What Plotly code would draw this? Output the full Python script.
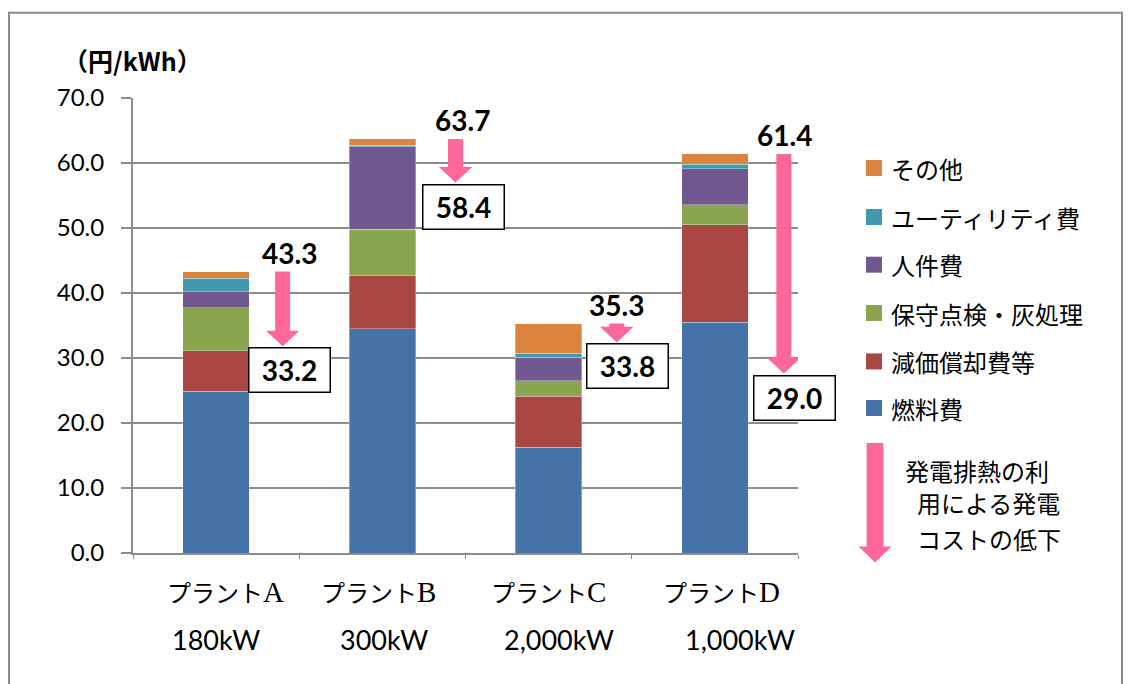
import plotly.graph_objects as go

# ---- data -------------------------------------------------------------
plants = ["プラントA", "プラントB", "プラントC", "プラントD"]
capacity = ["180kW", "300kW", "2,000kW", "1,000kW"]

fuel = [24.9, 34.5, 16.3, 35.5]          # 燃料費
depreciation = [6.2, 8.2, 7.8, 15.0]     # 減価償却費等
maintenance = [6.6, 7.1, 2.4, 3.1]       # 保守点検・灰処理
personnel = [2.5, 12.7, 3.6, 5.5]        # 人件費
utility = [2.1, 0.2, 0.6, 0.7]           # ユーティリティ費
other = [1.0, 1.0, 4.6, 1.6]             # その他

total_cost = [43.3, 63.7, 35.3, 61.4]    # 発電コスト合計
reduced_cost = [33.2, 58.4, 33.8, 29.0]  # 排熱利用後の発電コスト

y_ticks = [0, 10, 20, 30, 40, 50, 60, 70]

series = [
    ("燃料費", fuel, "#4572A7"),
    ("減価償却費等", depreciation, "#AA4643"),
    ("保守点検・灰処理", maintenance, "#89A54E"),
    ("人件費", personnel, "#71588F"),
    ("ユーティリティ費", utility, "#4198AF"),
    ("その他", other, "#DB843D"),
]

# ---- layout constants ---------------------------------------------------
W, H = 1130, 684
PL, PR, PT, PB = 133, 798, 98.3, 553.3   # plot area in pixels
NUM_FONT = "Lato, Noto Sans CJK JP, sans-serif"
JP_FONT = "Noto Sans CJK JP, sans-serif"
PINK = "#FF6699"
GRID = "#8C8C8C"

# horizontal placement of call-outs relative to each bar (category units)
arrow_dx = [0.40, 0.44, 0.41, 0.415]
box_dx = [0.44, 0.49, 0.475, 0.476]
top_dx = [0.44, 0.48, 0.41, 0.42]
name_shift = [9, -4, 0, 7]
cap_shift = [0, 2, 10, 25]

TIP_GAP = 1.4       # arrow tip sits just above the reduced-cost box
HEAD_H = 2.4        # arrow head height (data units)
SHAFT_W = 0.09      # arrow shaft width (category units)
HEAD_W = 0.2        # arrow head width (category units)


def px_x(px):
    return (px - PL) / (PR - PL)


def px_y(py):
    return (PB - py) / (PB - PT)


def arrow_path(cx, y_top, y_tip, sw, hw, hh):
    xl, xr = cx - sw / 2, cx + sw / 2
    hl, hr = cx - hw / 2, cx + hw / 2
    yn = y_tip + hh
    return (f"M {xl},{y_top} L {xr},{y_top} L {xr},{yn} L {hr},{yn} "
            f"L {cx},{y_tip} L {hl},{yn} L {xl},{yn} Z")


def plant_label(name):
    # kana in the CJK face, the plant letter a little larger in a serif face
    return f'{name[:-1]}<span style="font-size:29px">{name[-1]}</span>'


x_pos = list(range(len(plants)))

fig = go.Figure()
for name, vals, color in series:
    fig.add_trace(go.Bar(
        x=x_pos, y=vals, name=name, width=0.4,
        marker=dict(color=color, line=dict(color="rgba(255,255,255,0.55)", width=0.6)),
        showlegend=False,
    ))

shapes = []
annotations = []

# cost-reduction arrows, totals and boxed reduced costs
for i in x_pos:
    tip = reduced_cost[i] - TIP_GAP
    shapes.append(dict(
        type="path", xref="x", yref="y",
        path=arrow_path(i + arrow_dx[i], total_cost[i], tip, SHAFT_W, HEAD_W, HEAD_H),
        fillcolor=PINK, line=dict(width=0),
    ))
    annotations.append(dict(
        x=i + top_dx[i], y=total_cost[i], xref="x", yref="y",
        text=f"<b>{total_cost[i]:.1f}</b>", showarrow=False,
        yanchor="middle", yshift=19,
        font=dict(family=NUM_FONT, size=28, color="black"),
    ))
    annotations.append(dict(
        x=i + box_dx[i], y=tip, xref="x", yref="y",
        text=f"<b>{reduced_cost[i]:.1f}</b>", showarrow=False,
        yanchor="top", yshift=-1, width=80, height=43,
        bordercolor="black", borderwidth=1.5, borderpad=0,
        bgcolor="white",
        font=dict(family=NUM_FONT, size=28, color="black"),
    ))

# category labels (two lines)
for i in x_pos:
    annotations.append(dict(
        x=i, y=px_y(592), xref="x", yref="paper", xshift=name_shift[i],
        text=plant_label(plants[i]), showarrow=False, yanchor="middle",
        font=dict(family="Liberation Serif, Noto Sans CJK JP, serif", size=24, color="black"),
    ))
    annotations.append(dict(
        x=i, y=px_y(640), xref="x", yref="paper", xshift=cap_shift[i],
        text=capacity[i], showarrow=False, yanchor="middle",
        font=dict(family=NUM_FONT, size=27, color="black"),
    ))

# unit label
annotations.append(dict(
    x=px_x(132), y=px_y(60), xref="paper", yref="paper",
    text="<b>（円/kWh）</b>", showarrow=False,
    xanchor="center", yanchor="middle",
    font=dict(family=JP_FONT, size=25, color="black"),
))

# legend drawn beside the plot (top item = top of the stack)
legend_rows = [168.3, 217.3, 265.0, 313.3, 361.7, 408.3]
for (name, _vals, color), row in zip(reversed(series), legend_rows):
    shapes.append(dict(
        type="rect", xref="paper", yref="paper",
        x0=px_x(866), x1=px_x(882), y0=px_y(row + 8), y1=px_y(row - 8),
        fillcolor=color, line=dict(width=0),
    ))
    annotations.append(dict(
        x=px_x(889), y=px_y(row), xref="paper", yref="paper",
        text=name, showarrow=False, xanchor="left", yanchor="middle",
        font=dict(family=JP_FONT, size=24, color="black"),
    ))

# legend arrow and its explanation
lx = px_x(875)
shapes.append(dict(
    type="path", xref="paper", yref="paper",
    path=arrow_path(lx, px_y(443.3), px_y(562.7),
                    16.7 / (PR - PL), 33 / (PR - PL), 16 / (PB - PT)),
    fillcolor=PINK, line=dict(width=0),
))
for text, left, row in [("発電排熱の利", 903, 471), ("用による発電", 915, 503),
                        ("コストの低下", 915, 539)]:
    annotations.append(dict(
        x=px_x(left), y=px_y(row), xref="paper", yref="paper",
        text=text, showarrow=False, xanchor="left", yanchor="middle",
        font=dict(family=JP_FONT, size=24, color="black"),
    ))

# outer frame
shapes.append(dict(
    type="rect", xref="paper", yref="paper",
    x0=px_x(9), x1=px_x(1122), y0=px_y(700), y1=px_y(13),
    line=dict(color="#8C8C8C", width=2), fillcolor="rgba(0,0,0,0)", layer="below",
))

fig.update_layout(
    width=W, height=H,
    margin=dict(l=PL, r=W - PR, t=PT, b=H - PB, autoexpand=False),
    barmode="stack",
    plot_bgcolor="white", paper_bgcolor="white",
    shapes=shapes, annotations=annotations,
    showlegend=False,
    xaxis=dict(
        range=[-0.5, 3.5], tickvals=[-0.5, 0.5, 1.5, 2.5, 3.5],
        showticklabels=False, ticks="outside", ticklen=4, tickcolor=GRID,
        showgrid=False, showline=True, linecolor=GRID, linewidth=2,
        zeroline=False,
    ),
    yaxis=dict(
        range=[0, 70], tickvals=y_ticks, tickformat=".1f",
        ticks="outside", ticklen=10, tickcolor=GRID, tickwidth=2,
        showgrid=True, gridcolor=GRID, gridwidth=2,
        showline=True, linecolor=GRID, linewidth=2, zeroline=False,
        ticklabelstandoff=12,
        tickfont=dict(family=NUM_FONT, size=24, color="black"),
    ),
)

fig.write_html("out.html")
